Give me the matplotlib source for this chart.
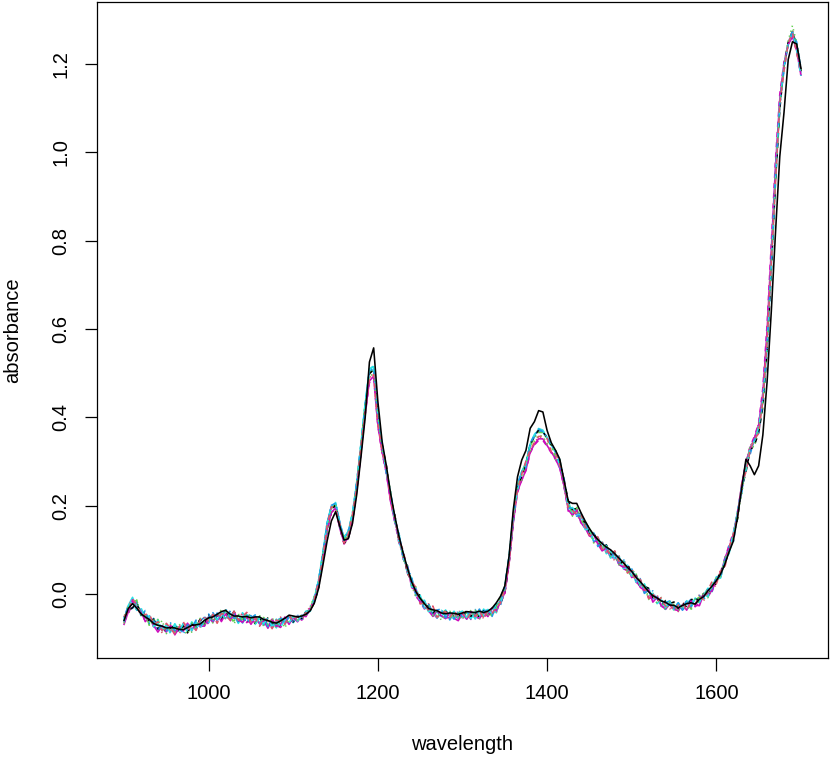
import numpy as np
import matplotlib
matplotlib.use("Agg")
import matplotlib.pyplot as plt

plt.rcParams['font.family'] = ['Liberation Sans', 'DejaVu Sans']

# wavelength grid (nm), 5 nm steps 900..1700
wavelength = np.arange(900, 1701, 5)

# mean spectrum
base_absorbance = [
    -0.058, -0.035, -0.022, -0.028, -0.042, -0.052, -0.060, -0.066, -0.072, -0.076,
    -0.079, -0.080, -0.080, -0.080, -0.079, -0.077, -0.074, -0.070, -0.066, -0.062,
    -0.058, -0.055, -0.052, -0.050, -0.049, -0.050, -0.052, -0.054, -0.055, -0.056,
    -0.058, -0.060, -0.062, -0.064, -0.065, -0.066, -0.066, -0.065, -0.063, -0.060,
    -0.058, -0.056, -0.052, -0.046, -0.034, -0.012, 0.025, 0.085, 0.150, 0.190,
    0.198, 0.155, 0.122, 0.135, 0.175, 0.245, 0.330, 0.420, 0.495, 0.502,
    0.390, 0.330, 0.280, 0.220, 0.170, 0.125, 0.088, 0.055, 0.025, 0.005,
    -0.012, -0.025, -0.033, -0.040, -0.044, -0.046, -0.047, -0.048, -0.048, -0.048,
    -0.048, -0.048, -0.047, -0.046, -0.045, -0.045, -0.044, -0.040, -0.032, -0.015,
    0.010, 0.075, 0.170, 0.240, 0.268, 0.290, 0.330, 0.350, 0.362, 0.360,
    0.345, 0.330, 0.315, 0.295, 0.250, 0.200, 0.185, 0.185, 0.172, 0.155,
    0.140, 0.128, 0.118, 0.110, 0.100, 0.092, 0.085, 0.077, 0.068, 0.058,
    0.048, 0.036, 0.024, 0.012, 0.002, -0.006, -0.013, -0.019, -0.024, -0.027,
    -0.029, -0.029, -0.028, -0.026, -0.023, -0.020, -0.014, -0.006, 0.004, 0.016,
    0.028, 0.045, 0.070, 0.100, 0.125, 0.175, 0.235, 0.285, 0.320, 0.340,
    0.370, 0.430, 0.560, 0.740, 0.940, 1.100, 1.190, 1.240, 1.265, 1.235,
    1.180,
]

# sample 1 (black solid) deviation from the mean spectrum, in 0.001 absorbance
dev_s1 = [
    -2, 2, 0, -4, -3, 0, 2, -1, 1, 3,
    2, 4, 3, 0, -2, 1, 3, 0, -2, 2,
    4, 3, 6, 10, 12, 5, 2, 4, 3, 5,
    4, 8, 10, 6, 5, 2, 0, 4, 8, 12,
    8, 4, 2, 0, -4, -8, -12, -20, -30, -25,
    -12, -2, 0, -10, -15, -20, -20, -20, 30, 55,
    45, 15, 10, 8, 6, 5, 4, 3, 2, 0,
    2, 3, 0, 4, 6, 3, 2, 5, 4, 2,
    5, 8, 6, 4, 6, 3, 5, 8, 12, 10,
    8, 10, 20, 25, 35, 35, 45, 40, 53, 52,
    25, 12, 10, 10, 8, 10, 20, 20, 12, 10,
    8, 6, 5, 4, 6, 8, 6, 4, 3, 2,
    3, 2, 4, 5, 3, 2, 4, 3, 5, 2,
    3, -2, 2, 4, 3, -3, 2, 0, 3, 2,
    2, 0, -3, -5, -6, -2, 5, 20, -30, -70,
    -80, -70, -80, -100, -120, -110, -100, -30, -15, 10,
    10,
]

# other samples: deviations from the mean spectrum, in 0.0018 absorbance
dev_s2 = [
    4, -3, 6, 2, -5, 3, 8, -2, 5, -4,
    7, 1, -6, 3, 9, -3, 2, -7, 4, 6,
    -2, 5, -8, 3, 1, -5, 7, -3, 2, 8,
    -4, 3, -6, 5, 2, -7, 4, 1, -3, 6,
    -2, 3, -1, 2, -3, 1, 2, -2, 3, 4,
    -3, 2, -4, 1, 3, -2, 4, -6, -4, -3,
    -3, -2, 4, -5, 3, -2, 6, -4, 2, 5,
    -6, 3, -2, 7, -5, 1, 4, -3, 6, -2,
    3, -5, 2, -3, 4, -6, 3, -2, 1, -3,
    2, -4, 5, -3, 2, 6, -2, -4, -3, -2,
    4, -5, 3, -2, 6, -4, 2, -3, 5, -2,
    -4, 3, 6, -5, 2, -3, 7, -2, 4, -6,
    3, -4, 5, 2, -7, 4, -3, 6, -2, 3,
    -5, 2, 4, -6, 3, -2, 5, -4, 2, 7,
    -3, 4, -6, 3, 5, -2, 8, -5, 3, 6,
    -4, 5, 7, 4, -4, 5, -3, 4, 3, -6,
    4,
]
dev_s3 = [
    -5, 6, -3, 8, -4, 2, -7, 5, -2, 9,
    -6, 3, -4, 7, -2, -8, 5, -3, 6, -5,
    4, -6, 2, 8, -4, 3, -9, 5, -2, 4,
    6, -3, 8, -5, -2, 7, -4, 6, -8, 3,
    5, -2, 3, -1, 2, 4, -3, 2, -4, 3,
    2, -3, 5, -2, 4, -3, 2, 5, -2, -1,
    4, -5, 3, 6, -3, 4, -6, 5, -3, -7,
    4, -2, 6, -5, 3, -8, 2, 5, -4, 3,
    -6, 4, -2, 5, -7, 3, -3, 6, -2, 4,
    -3, 5, -2, 4, -6, 3, -4, -2, -1, -2,
    -3, 5, -6, 4, -3, 2, -5, 6, -3, 4,
    5, -7, 3, -2, 6, -4, 2, -6, 4, -3,
    -5, 6, -2, 4, -8, 3, -5, 2, -7, 5,
    3, -6, 4, -2, -8, 5, -3, 6, -7, 2,
    5, -3, 7, -4, 2, 6, -5, 3, 8, -4,
    6, -4, 6, 8, 4, 6, 4, 7, 12, 6,
    4,
]
dev_s4 = [
    2, 5, -4, 6, -3, 7, -5, 3, -6, 4,
    -3, 8, -2, 5, -7, 4, -2, 6, -5, 3,
    7, -4, 5, -3, 9, -2, 4, -6, 3, -5,
    2, 7, -3, 6, -5, 3, -2, 8, -4, 5,
    -3, 4, 2, -2, 3, -1, 4, 3, 5, 6,
    4, 3, -2, 5, -3, 6, 2, 5, 6, 4,
    5, 4, -3, 6, -2, 5, -4, 3, 6, -5,
    2, -6, 5, -3, 4, 7, -4, 2, -5, 6,
    -3, 5, -2, 6, -4, 3, 5, -6, 4, -2,
    3, 6, -3, 5, 4, -2, 6, 5, 6, 4,
    6, 3, 5, -4, 7, -2, 4, -5, 3, 6,
    -3, 5, -6, 4, 2, -5, 6, -3, 7, -4,
    4, -3, 6, -5, 3, 7, -2, 5, -6, 3,
    -2, 5, -4, 7, -3, 4, 6, -5, 3, -2,
    6, -4, 3, 5, -6, 4, -3, 7, -2, 5,
    -3, 3, -2, 4, 5, 7, -3, 4, 5, 8,
    7,
]
dev_s5 = [
    -3, 4, 3, -5, 6, -2, 5, -4, 7, -3,
    5, -6, 4, -2, 6, 3, -5, 4, -7, 2,
    -3, 6, -4, 5, -6, 2, 5, -3, 7, -4,
    3, -5, 4, -2, 6, -4, 5, -6, 3, -3,
    4, -3, 2, 3, -2, 4, 3, 4, 5, 3,
    5, -2, 4, 3, 5, -3, 6, 7, 8, 8,
    6, 4, -2, 4, -3, 6, -4, 3, -5, 5,
    -3, 6, -4, 3, -6, 5, -2, 4, -5, 3,
    5, -3, 4, -6, 3, -2, 5, -3, 6, -4,
    2, 5, 4, -3, 5, 2, 6, 6, 7, 6,
    5, 5, 4, -3, 5, -4, 6, -2, 4, -5,
    3, -4, 6, -2, 5, -6, 3, -3, 5, -2,
    -4, 5, -3, 6, -2, 4, -5, 3, -4, 6,
    -5, 3, -4, 6, -2, 5, -3, 4, -6, 3,
    4, -5, 3, -2, 6, 3, 5, -3, 6, 4,
    4, 6, -2, 3, 3, 4, 2, 4, 3, -2,
    -4,
]
dev_s6 = [
    -6, -3, 5, -4, 3, -6, 4, -3, -8, 2,
    -4, 5, -7, 2, -3, 6, -5, 3, -4, -6,
    3, -5, 4, -7, 2, -4, 6, -3, -5, 2,
    -6, 4, -3, 2, -7, 5, -4, -2, 6, -5,
    3, -4, 2, -3, 1, -2, -3, -4, -2, -3,
    -2, -4, -3, -5, -4, -6, -5, -6, -7, -5,
    -4, -5, -3, -6, -4, 3, -5, 4, -6, 2,
    -4, 5, -3, -6, 4, -2, -5, 3, -4, -7,
    2, -5, 4, -3, -6, 2, -4, 5, -3, -2,
    -4, -3, -5, -4, -6, -5, -5, -6, -6, -5,
    -5, -5, -5, -6, -3, -5, -4, 3, -6, -3,
    -5, 4, -3, -7, 2, -5, 3, -6, -4, 2,
    -6, 3, -5, -2, 4, -7, 3, -4, -6, 2,
    -3, -5, 2, -6, 4, -3, -7, 3, -2, -5,
    4, -3, 6, 2, 5, 3, 7, 6, 5, 7,
    7, 14, 20, 22, 17, 11, 6, 2, -2, -3,
    -3,
]
dev_s7 = [
    3, -2, -5, 4, -3, 6, -2, 5, -4, 3,
    -5, 2, 6, -3, 4, -6, 3, -2, 5, -4,
    6, -3, 2, -5, 4, -2, 7, -4, 3, -6,
    2, -4, 5, -3, 6, -2, 3, -5, 4, 2,
    -3, 2, -2, 3, -2, -4, -6, -3, -2, -1,
    2, -3, -4, -6, -5, -3, -2, 0, 2, 3,
    5, 4, 6, -3, 5, -2, 4, -5, 3, -2,
    5, -3, 4, -2, 6, -4, 3, 5, -3, 2,
    -4, 6, -2, 3, -5, 4, -3, 2, 5, -3,
    -4, -3, -2, 4, -3, 2, 5, 4, 5, 4,
    5, 4, 5, 2, 4, 6, 3, 5, -2, 4,
    -3, 5, 2, -4, 6, -2, 4, -5, 3, 6,
    -2, 4, -5, 3, 6, -3, 2, -4, 5, 3,
    6, -3, 4, -2, 5, 7, -3, 4, -5, 2,
    -3, 5, -4, 2, 4, -3, 2, -5, 3, -2,
    -3, -4, -6, -5, -3, -2, 3, 5, 4, 3,
    2,
]
dev_s8 = [
    -4, 7, 2, -6, 5, -3, 6, -5, 2, -7,
    4, -3, 5, -6, 2, 7, -4, 3, -5, 6,
    -3, 4, -7, 2, 5, -4, 3, -6, 8, -2,
    -5, 6, -2, 4, -6, 3, -5, 7, -2, 4,
    -2, 3, -4, 2, 3, -2, 2, -3, -2, -4,
    -3, 2, -5, -2, -3, -4, -5, -5, -3, -3,
    -3, -4, 5, -3, 4, -6, 2, -4, 5, -7,
    3, -5, 6, -2, -4, 5, -6, 3, -3, 4,
    6, -4, 3, -5, 2, -6, 4, -2, -5, 3,
    -5, 2, -4, -3, -2, -4, -3, -4, -4, -3,
    -3, -4, -6, 5, -3, -5, 3, -2, -6, 4,
    -2, 6, -4, 5, -3, 4, -7, 5, -2, -4,
    6, -3, 4, -6, 5, -2, 6, -5, 3, -4,
    4, -6, 3, 5, -4, -2, 7, -6, 4, -3,
    -4, 6, -3, 4, -5, 5, -2, 6, 8, 6,
    9, 8, 11, 9, 5, 3, 1, 4, 6, 2,
    -2,
]
dev_s9 = [
    5, -4, 3, 7, -2, 4, -6, 2, 8, -3,
    -2, 6, -5, 4, -3, 5, -7, 2, 4, -5,
    3, -2, 6, -4, 7, -3, -5, 4, -2, 6,
    -3, 5, -4, 6, -2, 4, -7, 3, 5, -4,
    2, -3, 3, -2, 1, 3, 2, 3, 1, 2,
    3, -2, 2, -3, 2, 3, 4, 4, 4, 2,
    2, 3, -4, 5, -2, 4, -5, 2, -3, 6,
    -2, 4, -5, 3, -6, 2, 5, -4, 3, -5,
    4, -3, 6, -2, 5, -4, 3, -6, 2, 5,
    3, -2, 4, 2, 3, 4, 2, 3, 2, 3,
    3, 2, -3, 4, -5, 3, -2, 5, -4, 2,
    6, -3, 4, -5, 3, -2, 6, -4, 2, -5,
    3, 6, -4, 2, -5, 4, -2, 6, -3, 5,
    -4, 3, -2, 5, -6, 3, 4, -3, 5, -2,
    3, -5, 4, -2, 6, -3, 5, 4, 5, 6,
    4, 6, 8, 7, 5, 4, 3, 2, 5, 4,
    3,
]
dev_s10 = [
    -2, 3, -6, 5, -4, 8, -3, 6, -5, 2,
    6, -4, 3, -5, 7, -2, 4, -6, 3, 5,
    -4, 7, -3, 4, -5, 6, -2, 3, -6, 4,
    5, -2, 6, -4, 3, -6, 2, 5, -3, 7,
    -2, 4, -3, 2, -1, 2, 3, 4, 6, 5,
    3, 4, 2, 3, 5, 4, 6, 4, 5, 3,
    3, 5, -2, 4, -4, 6, -3, 5, -2, 4,
    -5, 3, 6, -4, 2, -3, 5, -6, 4, -2,
    3, -5, 4, -2, 6, -3, 2, -4, 5, -6,
    4, 3, 5, 2, 4, 3, 4, 3, 4, 4,
    4, 5, 3, -2, 5, -3, 4, -4, 6, -3,
    2, -5, 5, -3, 6, -2, 3, -6, 4, -3,
    5, -2, 3, -6, 4, -3, 5, -4, 2, 6,
    -3, 4, -5, 2, 6, -3, 5, -2, 4, -6,
    3, -2, 5, -4, 3, 6, -2, 5, 4, 3,
    2, 4, 6, 5, 4, 3, 2, 3, 4, 5,
    6,
]
dev_s11 = [
    1, 5, 8, -3, 4, -2, 6, -5, 3, -4,
    5, -3, 7, -2, 4, -5, 6, -3, 2, -6,
    4, -5, 3, -2, 6, -3, 4, -7, 2, 5,
    -3, 6, -2, 5, -4, 3, -6, 4, -2, 6,
    -4, 3, -2, 4, -3, 2, 4, 5, 6, 4,
    4, 3, 2, 4, 3, 5, 5, 6, 7, 7,
    5, 4, 3, -2, 4, -5, 3, -4, 6, -3,
    5, -4, 2, -6, 4, -3, 6, -2, 5, -4,
    -2, 4, -5, 3, -3, 6, -2, 4, -6, 3,
    4, 3, 5, 4, 5, 4, 5, 5, 6, 4,
    4, 4, 3, 5, -2, 6, -3, 4, -5, 3,
    -4, 6, -2, 4, -5, 3, -3, 5, -6, 4,
    2, -5, 4, -3, 6, -2, 4, -5, 3, 6,
    -2, 5, -4, 3, -5, 6, -3, 2, 5, -4,
    6, -2, 4, -5, 3, 5, 4, 5, 6, 4,
    4, 8, 10, 9, 8, 5, 4, 3, 1, 0,
    1,
]
dev_s12 = [
    -3, -6, 2, -5, 4, -7, 3, -4, -6, 5,
    -5, 2, -4, 6, -3, -6, 4, -2, -5, 3,
    -6, 3, -5, 2, -4, -7, 3, -2, 6, -5,
    3, -4, -6, 2, -5, 4, -3, -6, 2, -4,
    -3, 2, -4, -2, -1, -3, -2, -3, -4, -3,
    -4, -3, -5, -4, -6, -6, -7, -8, -9, -7,
    -6, -6, -4, -5, -3, -6, 2, -5, 3, -6,
    -3, -5, 4, -2, -6, 3, -4, -3, 2, -5,
    -4, 3, -6, 2, -4, -2, -5, 3, -4, -3,
    -5, -4, -3, -6, -5, -6, -6, -7, -8, -7,
    -6, -6, -6, -5, -4, -7, -3, 2, -5, -4,
    -3, -6, 2, -4, 3, -5, -2, 4, -6, -3,
    2, -5, -3, 4, -6, -2, 3, -5, -4, 2,
    -6, 3, -4, -2, 3, -5, -3, 2, -6, -4,
    3, -4, 5, 6, 7, 5, 6, 7, 8, 9,
    9, 20, 28, 30, 25, 17, 8, 3, 0, -4,
    -4,
]

black_unit = 0.001
other_unit = 0.0018
other_devs = [dev_s2, dev_s3, dev_s4, dev_s5, dev_s6,
              dev_s7, dev_s8, dev_s9, dev_s10, dev_s11, dev_s12]

# R palette and line types (matplot default col=1:6, lty=1:5)
r_colors = ["#000000", "#DF536B", "#61D04F", "#2297E6", "#28E2E5", "#CD0BBC"]
r_ltys = ["-", (0, (3.2, 3.2)), (0, (0.8, 2.4)), (0, (0.8, 2.4, 3.2, 2.4)), (0, (5.6, 2.4))]

fig = plt.figure(figsize=(8.30, 7.58), dpi=100)
ax = fig.add_axes([97 / 830, 1 - 658 / 758, (828 - 97) / 830, (658 - 2) / 758])

base = np.array(base_absorbance)
spectra = [base + np.array(dev_s1) * black_unit]
spectra += [base + np.array(d) * other_unit for d in other_devs]

n = len(spectra)
for i in reversed(range(n)):
    ax.plot(wavelength, spectra[i], color=r_colors[i % 6], linestyle=r_ltys[i % 5],
            linewidth=1.15, zorder=3 + (n - i) * 0.01)

ax.set_xlim(868, 1732)
ax.set_ylim(-0.145, 1.34)
ax.set_xticks([1000, 1200, 1400, 1600])
ax.set_yticks([0.0, 0.2, 0.4, 0.6, 0.8, 1.0, 1.2])
ax.set_yticklabels(["0.0", "0.2", "0.4", "0.6", "0.8", "1.0", "1.2"])
ax.tick_params(direction="out", length=9, width=0.9, labelsize=14.5, pad=10, colors="black")
for lab in ax.get_yticklabels():
    lab.set_rotation(90)
    lab.set_va("center")
for s in ax.spines.values():
    s.set_linewidth(0.9)

fig.text(462 / 830, 1 - 745 / 758, "wavelength", ha="center", va="center", fontsize=14.5)
fig.text(13 / 830, 1 - 330 / 758, "absorbance", ha="center", va="center",
         rotation=90, fontsize=14.5)

fig.savefig("out.png", dpi=100, facecolor="white")
